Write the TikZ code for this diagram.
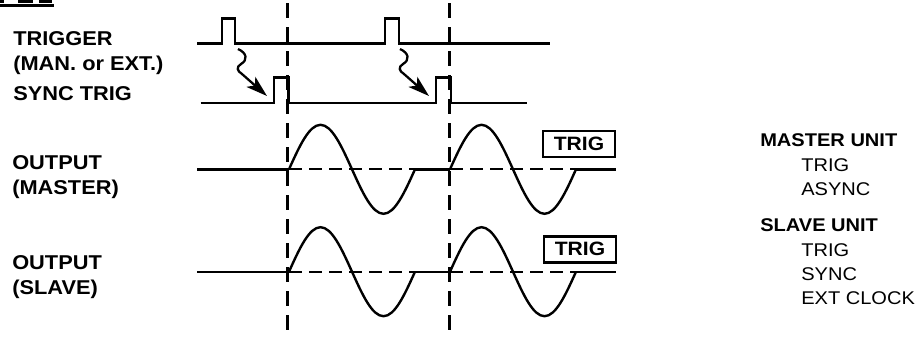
\documentclass[tikz,border=0pt]{standalone}
\usepackage{fontspec}
\usepackage{tikz}
\usetikzlibrary{arrows.meta, calc}
\newfontfamily\lblfont{Liberation Sans}[FakeStretch=1.09]

\begin{document}
\begin{tikzpicture}[x=0.75pt, y=-0.75pt,
  sig/.style={line width=1.8pt},
  gridline/.style={line width=1.6pt, dash pattern=on 11pt off 7pt},
  zeroline/.style={line width=1.6pt, dash pattern=on 9.75pt off 5.25pt},
  wiggle/.style={line width=1.7pt, -{Stealth[length=16pt, width=10pt, inset=4pt]}},
  lbl/.style={font=\lblfont\bfseries\fontsize{15}{18.75}\selectfont, align=left, anchor=base west, inner sep=0pt},
  unitlbl/.style={font=\lblfont\bfseries\fontsize{13.8}{17.6}\selectfont, anchor=base west, inner sep=0pt},
  modelbl/.style={font=\lblfont\fontsize{13.8}{17.8}\selectfont, align=left, anchor=base west, inner sep=0pt},
  trigbox/.style={draw, line width=1.8pt, minimum width=54pt, minimum height=19.5pt, inner sep=0pt,
    font=\lblfont\bfseries\fontsize{14.5}{17}\selectfont}]
  \useasboundingbox (0,0) rectangle (922,337);
  % cut-off heading
  \fill (0,0) rectangle (4,3.3);
  \fill (18,0) rectangle (33,3.3);
  \fill (39,0) rectangle (52,3.3);
  \draw[line width=1.8pt] (0,5.6) -- (54,5.6);
  % left labels (anchored on the last line)
  \node[lbl] (trglbl) at (13,70) {TRIGGER\\(MAN. or EXT.)};
  \node[lbl] (synclbl) at (13,100) {SYNC TRIG};
  \node[lbl] (mstlbl) at (12,194.5) {OUTPUT\\(MASTER)};
  \node[lbl] (slvlbl) at (12,294) {OUTPUT\\(SLAVE)};
  % trigger marks
  \draw[gridline] (287.5,3) -- (287.5,333);
  \draw[gridline] (449.5,3) -- (449.5,333);
  % trigger input
  \draw[sig] (197,43.3) -- (221.7,43.3) -- (221.7,18.3) -- (235,18.3) -- (235,43.3)
    -- (385,43.3) -- (385,18.3) -- (399,18.3) -- (399,43.3) -- (550,43.3);
  % sync trig
  \draw[sig] (200.7,102.7) -- (274,102.7) -- (274,77.3) -- (288.3,77.3) -- (288.3,102.7)
    -- (436,102.7) -- (436,77.3) -- (450.7,77.3) -- (450.7,102.7) -- (526.7,102.7);
  % wiggle arrows
  \coordinate (tp1) at (238,49);
  \coordinate (sp1) at (267,96);
  \coordinate (tp2) at (400,49);
  \coordinate (sp2) at (429,96);
  \foreach \i in {1,2}
    \draw[wiggle] (tp\i) .. controls ($(tp\i)+(9,4)$) and ($(tp\i)+(10,11)$) .. ($(tp\i)+(3,15)$)
      .. controls ($(tp\i)+(-2,18)$) and ($(tp\i)+(-1,22)$) .. ($(tp\i)+(4,25)$) -- (sp\i);
  % outputs
  \foreach \y in {169.3,271.7} {
    \draw[sig] (197,\y) -- (289,\y);
    \draw[zeroline] (289,\y) -- (415,\y);
    \draw[sig] (415,\y) -- (450,\y);
    \draw[zeroline] (450,\y) -- (576,\y);
    \draw[sig] (576,\y) -- (616,\y);
    \draw[sig] (289,\y) sin ++(31.5,-44.5) cos ++(31.5,44.5) sin ++(31.5,44.5) cos ++(31.5,-44.5);
    \draw[sig] (450,\y) sin ++(31.5,-44.5) cos ++(31.5,44.5) sin ++(31.5,44.5) cos ++(31.5,-44.5);
  }
  \node[trigbox] (mstmode) at (579,143.7) {TRIG};
  \node[trigbox] (slvmode) at (580,249.3) {TRIG};
  % unit settings (anchored on the last line)
  \node[unitlbl] (mstunit) at (760,146) {MASTER UNIT};
  \node[modelbl] (mstset) at (801,195) {TRIG\\ASYNC};
  \node[unitlbl] (slvunit) at (760,231.5) {SLAVE UNIT};
  \node[modelbl] (slvset) at (801,304) {TRIG\\SYNC\\EXT CLOCK};
\end{tikzpicture}
\end{document}
